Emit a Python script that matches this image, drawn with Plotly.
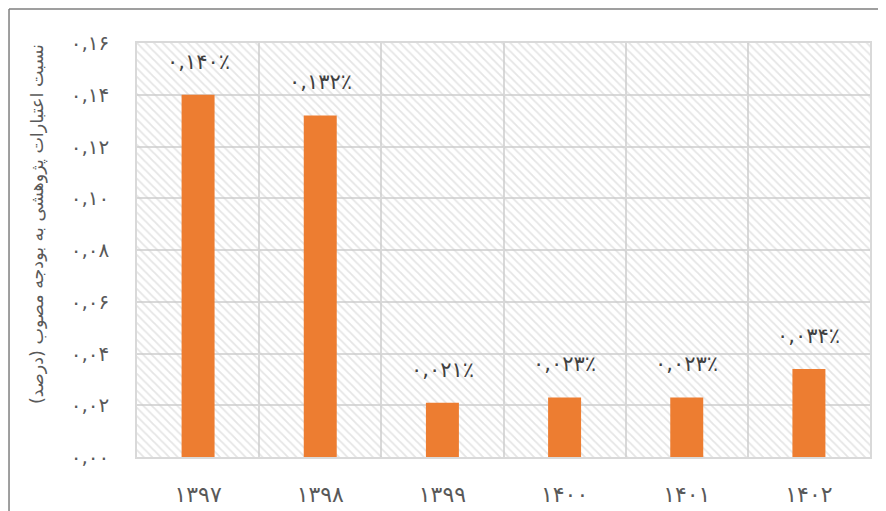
import plotly.graph_objects as go

years = ["۱۳۹۷", "۱۳۹۸", "۱۳۹۹", "۱۴۰۰", "۱۴۰۱", "۱۴۰۲"]
ratios = [0.140, 0.132, 0.021, 0.023, 0.023, 0.034]
value_labels = ["۰,۱۴۰٪", "۰,۱۳۲٪", "۰,۰۲۱٪", "۰,۰۲۳٪", "۰,۰۲۳٪", "۰,۰۳۴٪"]
y_ticks = [0.00, 0.02, 0.04, 0.06, 0.08, 0.10, 0.12, 0.14, 0.16]
y_tick_labels = ["۰,۰۰", "۰,۰۲", "۰,۰۴", "۰,۰۶", "۰,۰۸", "۰,۱۰", "۰,۱۲", "۰,۱۴", "۰,۱۶"]
y_max = 0.16
y_title = "نسبت اعتبارات پژوهشی به بودجه مصوب (درصد)"

FONT = "DejaVu Sans"
TXT = "#595959"

fig = go.Figure()
# hatched background cells
fig.add_trace(go.Bar(
    x=years, y=[y_max] * len(years), width=1.0,
    marker=dict(color="rgba(0,0,0,0)", line=dict(width=0),
                pattern=dict(shape="\\", fgcolor="#cccccc", bgcolor="rgba(0,0,0,0)",
                             size=6, solidity=0.3)),
    hoverinfo="skip", showlegend=False,
))
fig.add_trace(go.Bar(
    x=years, y=ratios, width=0.27,
    marker=dict(color="#ED7D31", line=dict(width=0)),
    showlegend=False,
))

for xv, yv, lab in zip(years, ratios, value_labels):
    fig.add_annotation(x=xv, y=yv, text=lab, showarrow=False, yanchor="bottom",
                       yshift=19, font=dict(family=FONT, size=21, color="#404040"))

fig.add_annotation(xref="paper", yref="paper", x=-0.152, y=0.563, text=y_title,
                   textangle=-90, showarrow=False,
                   font=dict(family=FONT, size=17.5, color=TXT))

# outer chart border (left and top)
fig.add_shape(type="line", xref="paper", yref="paper", x0=-0.1746, x1=-0.1746,
              y0=-0.2, y1=1.0821, line=dict(color="#7f7f7f", width=1.5))
fig.add_shape(type="line", xref="paper", yref="paper", x0=-0.1746, x1=1.05,
              y0=1.0821, y1=1.0821, line=dict(color="#7f7f7f", width=1.5))

fig.update_layout(
    width=878, height=503,
    margin=dict(l=129, r=16, t=35, b=54, autoexpand=False),
    barmode="overlay",
    plot_bgcolor="white", paper_bgcolor="white",
    font=dict(family=FONT, color=TXT),
)
fig.update_xaxes(type="category", tickson="boundaries", showgrid=True,
                 gridcolor="#d9d9d9", gridwidth=1.5, showline=True, mirror=True,
                 linecolor="#d9d9d9", linewidth=1.5, ticks="", automargin=False,
                 tickfont=dict(family=FONT, size=22, color=TXT),
                 ticklabelstandoff=17, range=[-0.5, 5.5])
fig.update_yaxes(range=[0, y_max], tickvals=y_ticks, ticktext=y_tick_labels,
                 showgrid=True, gridcolor="#d9d9d9", gridwidth=1.5,
                 showline=True, mirror=True, linecolor="#d9d9d9", linewidth=1.5,
                 ticks="", zeroline=False, automargin=False,
                 tickfont=dict(family=FONT, size=20, color=TXT),
                 ticklabelstandoff=22)

fig.write_html("out.html")
